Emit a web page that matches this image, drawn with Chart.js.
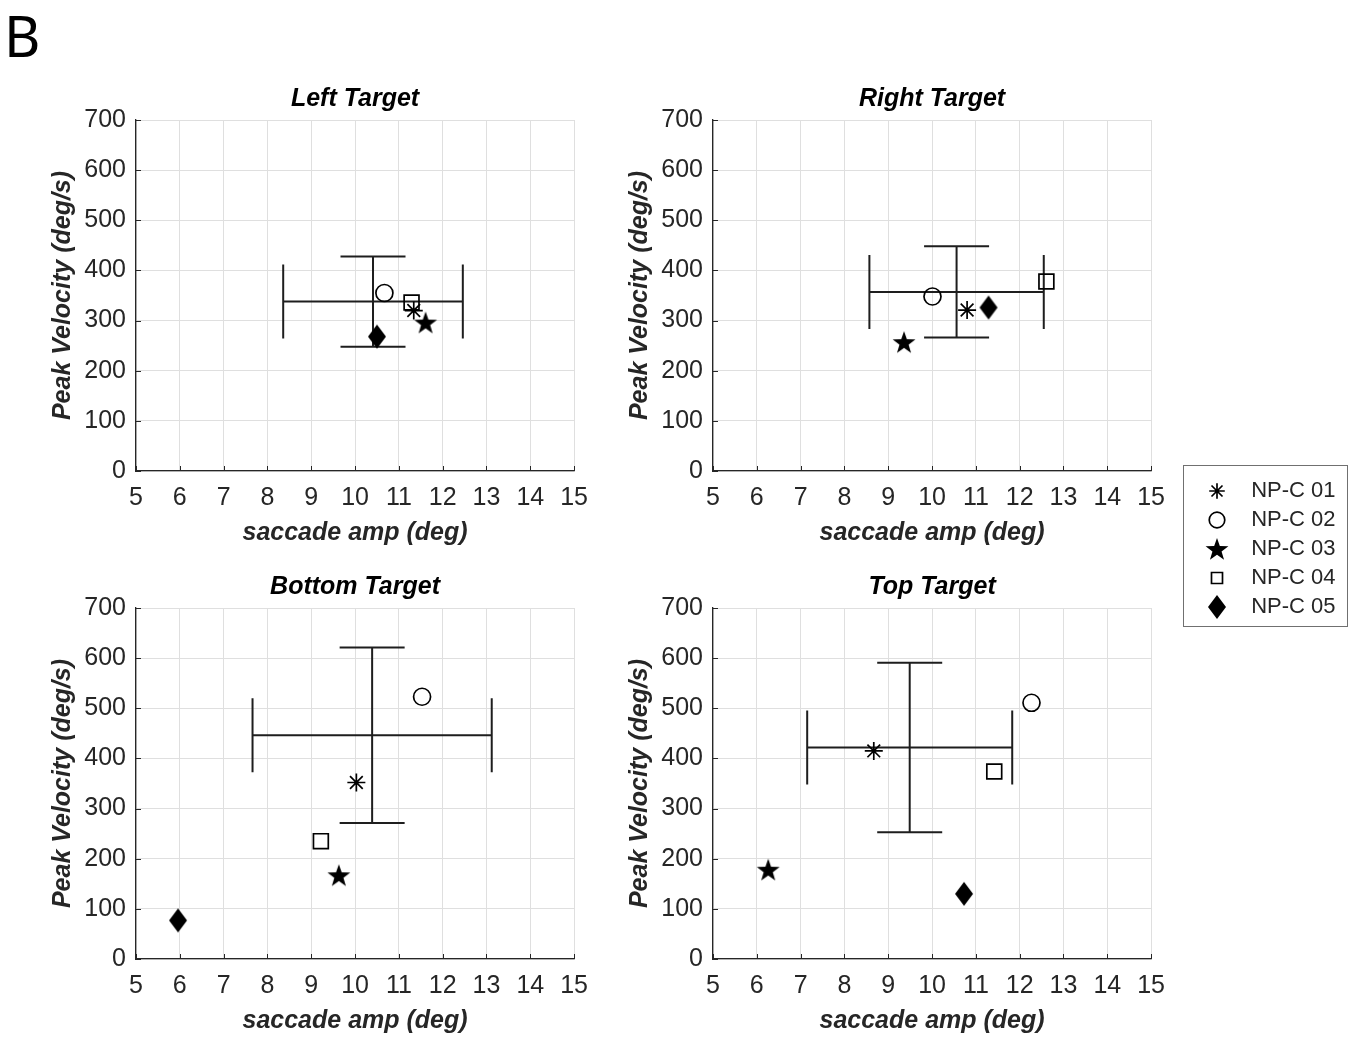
<!DOCTYPE html>
<html>
<head>
<meta charset="utf-8">
<script src="https://cdn.jsdelivr.net/npm/chart.js@4/dist/chart.umd.min.js"></script>
<style>
  body { margin: 0; background: #fff; overflow: hidden; }
  canvas { position: absolute; }
  #panelB { position: absolute; left: 4px; top: 7px; font: 56px "Noto Sans", "Open Sans", sans-serif; line-height: 1; color: #000; }
  #legendBox { position: absolute; left: 1183px; top: 465px; width: 165px; height: 162px; border: 1px solid #707070; box-sizing: border-box; }
  #legendBox canvas { position: absolute; left: 0; top: 0; }
</style>
</head>
<body>
<div id="panelB">B</div>
<canvas id="leftChart" width="600" height="480" style="left:0px;top:80px"></canvas>
<canvas id="rightChart" width="600" height="480" style="left:577px;top:80px"></canvas>
<canvas id="bottomChart" width="600" height="480" style="left:0px;top:568px"></canvas>
<canvas id="topChart" width="600" height="480" style="left:577px;top:568px"></canvas>
<div id="legendBox"><canvas id="legendChart" width="340" height="160"></canvas></div>
<script>
// subjects (NP-C patients)
const subjects = ["NP-C 01", "NP-C 02", "NP-C 03", "NP-C 04", "NP-C 05"];

// saccade amplitude (deg) and peak velocity (deg/s) per subject, per target
const leftAmp = [11.34, 10.67, 11.61, 11.29, 10.50];
const leftVel = [320, 355, 296, 336, 268];
const rightAmp = [10.80, 10.01, 9.36, 12.61, 11.29];
const rightVel = [321, 348, 257, 378, 326];
const bottomAmp = [10.03, 11.53, 9.63, 9.22, 5.96];
const bottomVel = [352, 523, 167, 235, 77];
const topAmp = [8.67, 12.27, 6.26, 11.42, 10.73];
const topVel = [415, 511, 178, 374, 130];

// control mean and SD: [amp, velocity]
const leftMean = [10.41, 338], leftSD = [2.05, 90];
const rightMean = [10.56, 357], rightSD = [1.99, 91];
const bottomMean = [10.39, 446], bottomSD = [2.73, 175];
const topMean = [9.49, 422], topSD = [2.34, 169];

// axis ticks: [min, max, step]
const ampTicks = [5, 15, 1];
const velTicks = [0, 700, 100];

const FONT = "'Liberation Sans', Arial, Helvetica, sans-serif";
const DARK = "#262626";
Chart.defaults.font.family = FONT;

// marker images for the filled star and diamond
function starImage(R) {
  const c = document.createElement("canvas");
  c.width = c.height = Math.ceil(R * 2 + 2);
  const g = c.getContext("2d");
  const cx = c.width / 2, cy = c.height / 2 + 1;
  const r = R * 0.4;
  g.beginPath();
  for (let i = 0; i < 10; i++) {
    const a = -Math.PI / 2 + i * Math.PI / 5;
    const rr = i % 2 === 0 ? R : r;
    g.lineTo(cx + rr * Math.cos(a), cy + rr * Math.sin(a));
  }
  g.closePath();
  g.fillStyle = "#000";
  g.fill();
  return c;
}
function diamondImage(w, h) {
  const c = document.createElement("canvas");
  c.width = w + 2; c.height = h + 2;
  const g = c.getContext("2d");
  g.beginPath();
  g.moveTo(c.width / 2, 1);
  g.lineTo(c.width - 1, c.height / 2);
  g.lineTo(c.width / 2, c.height - 1);
  g.lineTo(1, c.height / 2);
  g.closePath();
  g.fillStyle = "#000";
  g.fill();
  return c;
}

const markers = [
  { pointStyle: "star", pointRadius: 9 },
  { pointStyle: "circle", pointRadius: 8.5 },
  { pointStyle: starImage(12), pointRadius: 12 },
  { pointStyle: "rect", pointRadius: 10.5 },
  { pointStyle: diamondImage(18, 24), pointRadius: 12 },
];

function makeDatasets(amp, vel) {
  return subjects.map((s, i) => ({
    label: s,
    data: amp ? [{ x: amp[i], y: vel[i] }] : [],
    pointStyle: markers[i].pointStyle,
    pointRadius: markers[i].pointRadius,
    pointHoverRadius: markers[i].pointRadius,
    borderColor: "#000",
    backgroundColor: "rgba(0,0,0,0)",
    borderWidth: 1.7,
    showLine: false,
  }));
}

// mean +/- SD cross and inner tick marks
const crossbars = {
  id: "crossbars",
  beforeDatasetsDraw(chart, args, opts) {
    const { ctx } = chart;
    const x = chart.scales.x, y = chart.scales.y;
    const m = opts.mean, sd = opts.sd;
    const cx = x.getPixelForValue(m[0]), cy = y.getPixelForValue(m[1]);
    const xl = x.getPixelForValue(m[0] - sd[0]), xr = x.getPixelForValue(m[0] + sd[0]);
    const yt = y.getPixelForValue(m[1] + sd[1]), yb = y.getPixelForValue(m[1] - sd[1]);
    ctx.save();
    ctx.strokeStyle = "#1e1e1e";
    ctx.lineWidth = 2;
    ctx.beginPath();
    ctx.moveTo(xl, cy); ctx.lineTo(xr, cy);
    ctx.moveTo(xl, cy - 37); ctx.lineTo(xl, cy + 37);
    ctx.moveTo(xr, cy - 37); ctx.lineTo(xr, cy + 37);
    ctx.moveTo(cx, yt); ctx.lineTo(cx, yb);
    ctx.moveTo(cx - 32.5, yt); ctx.lineTo(cx + 32.5, yt);
    ctx.moveTo(cx - 32.5, yb); ctx.lineTo(cx + 32.5, yb);
    ctx.stroke();
    ctx.restore();
  },
  afterDraw(chart) {
    const { ctx, chartArea } = chart;
    const x = chart.scales.x, y = chart.scales.y;
    ctx.save();
    ctx.strokeStyle = DARK;
    ctx.lineWidth = 1;
    ctx.beginPath();
    x.ticks.forEach(t => {
      const px = Math.round(x.getPixelForValue(t.value)) + 0.5;
      ctx.moveTo(px, chartArea.bottom); ctx.lineTo(px, chartArea.bottom - 5);
    });
    y.ticks.forEach(t => {
      const py = Math.round(y.getPixelForValue(t.value)) + 0.5;
      ctx.moveTo(chartArea.left, py); ctx.lineTo(chartArea.left + 5, py);
    });
    ctx.stroke();
    ctx.restore();
  },
};

const titleFont = { size: 25, weight: "bold", style: "italic", lineHeight: 1.2 };
const tickFont = { size: 25, lineHeight: 1.2 };

function makePanel(id, title, amp, vel, mean, sd, padRight) {
  return new Chart(document.getElementById(id), {
    type: "scatter",
    data: { datasets: makeDatasets(amp, vel) },
    plugins: [crossbars],
    options: {
      responsive: false,
      animation: false,
      layout: { padding: { left: 0, right: padRight, top: 0, bottom: 0 } },
      plugins: {
        legend: { display: false },
        tooltip: { enabled: false },
        title: {
          display: true,
          fullSize: false,
          text: title,
          color: "#000",
          font: titleFont,
          padding: { top: 4, bottom: 6 },
        },
        crossbars: { mean: mean, sd: sd },
      },
      scales: {
        x: {
          type: "linear",
          min: ampTicks[0],
          max: ampTicks[1],
          ticks: { stepSize: ampTicks[2], color: DARK, font: tickFont, padding: 12, maxRotation: 0 },
          grid: { color: "#dfdfdf", lineWidth: 1, drawTicks: false },
          border: { display: true, color: DARK, width: 1.3 },
          title: {
            display: true,
            text: "saccade amp (deg)",
            color: DARK,
            font: titleFont,
            padding: { top: 0, bottom: 12 },
          },
          afterFit: s => { s.height = 89; },
        },
        y: {
          type: "linear",
          min: velTicks[0],
          max: velTicks[1],
          ticks: { stepSize: velTicks[2], color: DARK, font: tickFont, padding: 10 },
          grid: { color: "#dfdfdf", lineWidth: 1, drawTicks: false },
          border: { display: true, color: DARK, width: 1.3 },
          title: {
            display: true,
            text: "Peak Velocity (deg/s)",
            color: DARK,
            font: titleFont,
            padding: { top: 48.5, bottom: 0 },
          },
          afterFit: s => { s.width = 136; },
        },
      },
    },
  });
}

makePanel("leftChart", "Left Target", leftAmp, leftVel, leftMean, leftSD, 25);
makePanel("rightChart", "Right Target", rightAmp, rightVel, rightMean, rightSD, 23);
makePanel("bottomChart", "Bottom Target", bottomAmp, bottomVel, bottomMean, bottomSD, 25);
makePanel("topChart", "Top Target", topAmp, topVel, topMean, topSD, 23);

// legend on its own small chart
new Chart(document.getElementById("legendChart"), {
  type: "scatter",
  data: { datasets: makeDatasets(null, null) },
  options: {
    responsive: false,
    animation: false,
    layout: { padding: { left: 15, right: 0, top: 6, bottom: 0 } },
    scales: { x: { display: false }, y: { display: false } },
    plugins: {
      tooltip: { enabled: false },
      legend: {
        display: true,
        position: "left",
        align: "center",
        labels: {
          usePointStyle: true,
          boxHeight: 11,
          padding: 7,
          color: DARK,
          font: { size: 22 },
          generateLabels: chart =>
            Chart.defaults.plugins.legend.labels.generateLabels(chart).map(item => {
              item.text = "  " + item.text;
              return item;
            }),
        },
      },
    },
  },
});
</script>
</body>
</html>
